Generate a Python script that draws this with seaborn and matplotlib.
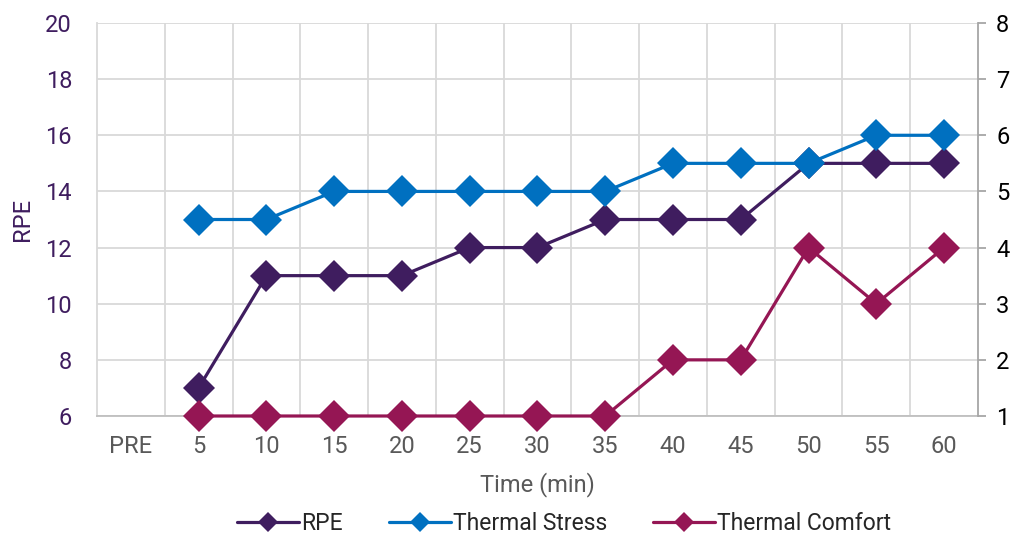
import matplotlib
matplotlib.use("Agg")
import matplotlib.pyplot as plt
from matplotlib.lines import Line2D
import seaborn as sns
import pandas as pd
import numpy as np

categories = ["PRE", "5", "10", "15", "20", "25", "30", "35", "40", "45", "50", "55", "60"]
data_times = ["5", "10", "15", "20", "25", "30", "35", "40", "45", "50", "55", "60"]
rpe = [7, 11, 11, 11, 12, 12, 13, 13, 13, 15, 15, 15]
thermal_stress = [4.5, 4.5, 5, 5, 5, 5, 5, 5.5, 5.5, 5.5, 6, 6]
thermal_comfort = [1, 1, 1, 1, 1, 1, 1, 2, 2, 4, 3, 4]
left_ticks = [6, 8, 10, 12, 14, 16, 18, 20]
right_ticks = [1, 2, 3, 4, 5, 6, 7, 8]

c_rpe = "#3F1D5F"
c_ts = "#0070C0"
c_tc = "#951654"
grid_c = "#D9D9D9"

sns.set_theme(style="white")
plt.rcParams['font.family'] = ['Roboto', 'DejaVu Sans']

pos = [categories.index(t) for t in data_times]
df = pd.DataFrame({"pos": pos, "RPE": rpe, "TS": thermal_stress, "TC": thermal_comfort})

fig = plt.figure(figsize=(10.2, 5.36), dpi=100)
ax = fig.add_axes([97/1020, 1-416/536, (978-97)/1020, (416-23)/536])
ax2 = ax.twinx()

ms = 16
lw = 2.3
sns.lineplot(data=df, x="pos", y="RPE", ax=ax, color=c_rpe, marker="D", markersize=ms,
             markeredgewidth=0, linewidth=lw, zorder=3, clip_on=False)
sns.lineplot(data=df, x="pos", y="TS", ax=ax2, color=c_ts, marker="D", markersize=ms,
             markeredgewidth=0, linewidth=lw, zorder=4, clip_on=False)
sns.lineplot(data=df, x="pos", y="TC", ax=ax2, color=c_tc, marker="D", markersize=ms,
             markeredgewidth=0, linewidth=lw, zorder=5, clip_on=False)

ax.set_xlim(-0.5, len(categories) - 0.5)
ax.set_ylim(6, 20)
ax2.set_ylim(1, 8)
ax.set_xticks(range(len(categories)))
ax.set_xticklabels(categories)
ax.set_xticks(np.arange(0.5, len(categories) - 1, 1), minor=True)
ax.set_yticks(left_ticks)
ax2.set_yticks(right_ticks)

ax.grid(True, which="major", axis="y", color=grid_c, linewidth=1.3)
ax.grid(True, which="minor", axis="x", color=grid_c, linewidth=1.3)
ax.grid(False, which="major", axis="x")
ax.set_axisbelow(True)

for a in (ax, ax2):
    for s in a.spines.values():
        s.set_visible(False)
ax.spines["left"].set_visible(True)
ax.spines["left"].set_color(grid_c)
ax.spines["left"].set_linewidth(1.3)
ax.spines["bottom"].set_visible(True)
ax.spines["bottom"].set_color("#BFBFBF")
ax.spines["bottom"].set_linewidth(1.3)
ax2.spines["right"].set_visible(True)
ax2.spines["right"].set_color("#A6A6A6")
ax2.spines["right"].set_linewidth(1.3)

ax.tick_params(axis="x", which="both", length=0, labelsize=17, labelcolor="#595959", pad=14)
ax.tick_params(axis="y", length=0, labelsize=17, labelcolor=c_rpe, pad=18)
ax2.tick_params(axis="y", length=6, width=1.3, color="#A6A6A6", labelsize=17,
                labelcolor="#000000", pad=7, direction="out")

ax.set_xlabel("Time (min)", fontsize=17, color="#595959", labelpad=10)
ax.set_ylabel("RPE", fontsize=17, color=c_rpe, labelpad=8)
ax2.set_ylabel("")

handles = [
    Line2D([], [], color=c_rpe, marker="D", markersize=10, linewidth=lw, markeredgewidth=0),
    Line2D([], [], color=c_ts, marker="D", markersize=10, linewidth=lw, markeredgewidth=0),
    Line2D([], [], color=c_tc, marker="D", markersize=10, linewidth=lw, markeredgewidth=0),
]
if ax.get_legend():
    ax.get_legend().remove()
fig.legend(handles, ["RPE", "Thermal Stress", "Thermal Comfort"], loc="lower center",
           bbox_to_anchor=(0.553, -0.037), ncol=3, frameon=False, fontsize=16.5,
           handlelength=2.7, handletextpad=0.1, columnspacing=2.0)

fig.savefig("out.png", dpi=100)
